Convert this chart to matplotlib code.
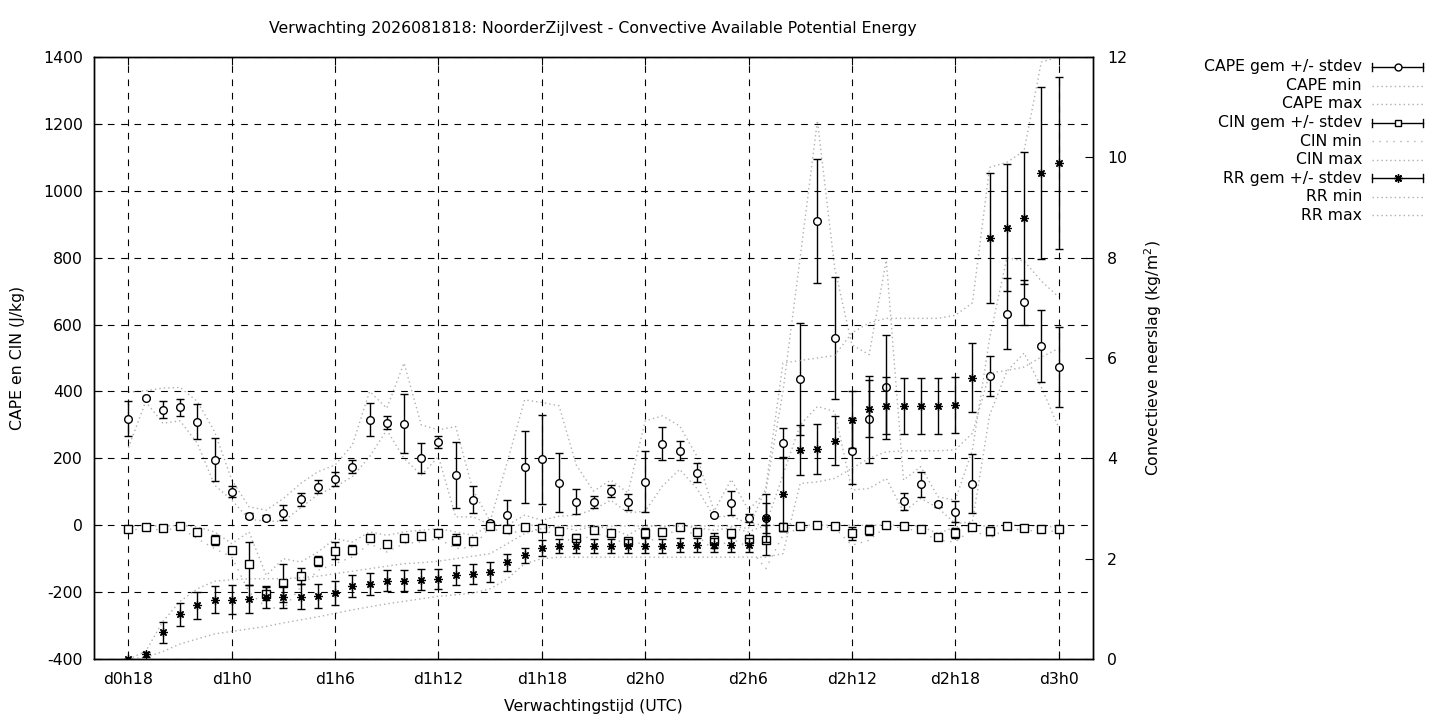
import matplotlib
matplotlib.use("Agg")
import matplotlib.pyplot as plt
from matplotlib.lines import Line2D

plt.rcParams['font.family'] = ['DejaVu Sans']
plt.rcParams['font.size'] = 11.3
plt.rcParams['axes.unicode_minus'] = False

# forecast hours 18 .. 72 (d0h18 .. d3h0)
hours = list(range(18, 73))

cape_mean = [318, 379, 346, 352, 310, 196, 100, 29, 23, 38,
             77, 115, 139, 175, 316, 307, 304, 202, 250, 151,
             76, 8, 31, 175, 197, 127, 70, 70, 103, 70,
             130, 244, 223, 157, 31, 66, 21, 22, 245, 437,
             910, 560, 222, 317, 414, 72, 122, 62, 41, 124,
             446, 633, 666, 536, 472]
cape_std = [52, 3, 25, 26, 52, 65, 17, 8, 8, 21,
            20, 19, 21, 19, 50, 19, 88, 45, 18, 99,
            40, 5, 43, 108, 133, 88, 37, 18, 18, 23,
            91, 50, 28, 28, 4, 35, 12, 45, 45, 168,
            186, 182, 100, 130, 155, 25, 37, 7, 30, 88,
            59, 107, 68, 107, 120]
cape_min = [232, 370, 305, 312, 245, 120, 75, 18, 12, 12,
            52, 92, 115, 145, 205, 285, 200, 150, 205, 25,
            25, 2, 0, 30, 15, 27, 30, 47, 75, 37,
            42, 117, 167, 110, 25, 27, 5, 0, 150, 300,
            355, 340, 105, 110, 140, 40, 80, 52, 5, 10,
            330, 460, 515, 413, 293]
cape_max = [398, 402, 410, 412, 370, 280, 135, 55, 45, 80,
            125, 160, 180, 240, 400, 350, 485, 300, 285, 295,
            105, 12, 190, 375, 367, 357, 180, 102, 135, 97,
            312, 327, 297, 207, 42, 137, 45, 100, 400, 800,
            1210, 770, 540, 510, 792, 135, 175, 85, 75, 225,
            560, 800, 790, 730, 683]

cin_mean = [-11, -5, -9, -2, -20, -44, -74, -115, -205, -173,
            -151, -107, -76, -73, -38, -56, -38, -32, -23, -43,
            -47, -1, -11, -5, -9, -17, -37, -14, -23, -46,
            -23, -19, -5, -20, -45, -23, -40, -45, -6, -2,
            0, -3, -24, -14, 0, -3, -11, -34, -23, -5,
            -17, -3, -7, -10, -11]
cin_std = [2, 2, 2, 2, 10, 15, 10, 65, 20, 58,
           24, 16, 25, 13, 4, 4, 4, 4, 4, 16,
           5, 2, 10, 2, 2, 4, 10, 3, 3, 6,
           15, 8, 2, 3, 22, 8, 12, 45, 12, 2,
           2, 2, 20, 16, 1, 2, 3, 4, 15, 3,
           12, 2, 3, 3, 3]
cin_min = [-15, -10, -15, -8, -40, -70, -95, -200, -245, -250,
           -185, -135, -115, -95, -55, -80, -55, -50, -40, -70,
           -65, -5, -30, -10, -15, -30, -55, -25, -35, -60,
           -50, -35, -10, -30, -75, -40, -65, -130, -30, -8,
           -4, -8, -60, -45, -3, -8, -20, -45, -50, -12,
           -40, -8, -15, -18, -18]
cin_max = [-5, 0, -3, 0, -5, -20, -55, -20, -150, -100,
           -110, -80, -40, -50, -20, -30, -20, -15, -10, -20,
           -30, 0, 0, 0, 0, -5, -15, -3, -10, -30,
           0, -5, 0, -8, -15, -8, -20, 0, 0, 0,
           0, 0, 0, 0, 0, 0, -3, -25, -5, 0,
           -3, 0, 0, -3, -5]

rr_mean = [0.0, 0.09, 0.53, 0.89, 1.07, 1.18, 1.18, 1.19, 1.23, 1.23,
           1.24, 1.26, 1.31, 1.45, 1.50, 1.56, 1.56, 1.58, 1.60, 1.67,
           1.70, 1.74, 1.93, 2.07, 2.21, 2.26, 2.26, 2.26, 2.26, 2.26,
           2.26, 2.26, 2.27, 2.27, 2.27, 2.27, 2.27, 2.81, 3.29, 4.17,
           4.19, 4.35, 4.77, 4.99, 5.05, 5.05, 5.05, 5.05, 5.07, 5.61,
           8.39, 8.60, 8.79, 9.69, 9.89]
rr_std = [0.0, 0.05, 0.21, 0.23, 0.27, 0.27, 0.29, 0.28, 0.22, 0.22,
          0.25, 0.24, 0.24, 0.22, 0.22, 0.21, 0.21, 0.21, 0.20, 0.20,
          0.20, 0.20, 0.17, 0.15, 0.16, 0.14, 0.14, 0.14, 0.14, 0.14,
          0.15, 0.14, 0.14, 0.14, 0.14, 0.14, 0.14, 0.48, 0.74, 0.50,
          0.50, 0.49, 0.57, 0.57, 0.57, 0.56, 0.56, 0.56, 0.56, 0.68,
          1.30, 1.26, 1.32, 1.71, 1.71]
rr_min = [0.0, 0.03, 0.15, 0.3, 0.4, 0.5, 0.55, 0.6, 0.65, 0.72,
          0.78, 0.84, 0.91, 0.98, 1.04, 1.1, 1.15, 1.2, 1.25, 1.28,
          1.31, 1.4, 1.6, 1.9, 2.0, 2.03, 2.03, 2.03, 2.03, 2.03,
          2.03, 2.03, 2.03, 2.03, 2.03, 2.03, 2.03, 2.03, 2.1, 3.5,
          3.53, 3.6, 3.8, 4.0, 4.13, 4.15, 4.15, 4.15, 4.17, 4.5,
          5.7, 5.75, 5.82, 6.02, 6.19]
rr_max = [0.0, 0.15, 0.75, 1.15, 1.4, 1.55, 1.58, 1.6, 1.6, 1.6,
          1.62, 1.65, 1.7, 1.75, 1.8, 1.85, 1.9, 1.92, 1.95, 2.0,
          2.05, 2.1, 2.3, 2.5, 2.6, 2.65, 2.65, 2.65, 2.65, 2.65,
          2.65, 2.65, 2.65, 2.65, 2.65, 2.65, 2.6, 3.4, 5.9, 5.95,
          6.0, 6.05, 6.5, 6.7, 6.79, 6.79, 6.79, 6.79, 6.85, 7.1,
          9.8, 9.9, 10.13, 11.9, 12.0]

tick_hours = [18, 24, 30, 36, 42, 48, 54, 60, 66, 72]
tick_labels = ["d0h18", "d1h0", "d1h6", "d1h12", "d1h18",
               "d2h0", "d2h6", "d2h12", "d2h18", "d3h0"]

W, H = 1440, 720
grey = "#b0b0b0"
dots = (0, (1, 2.2))
star = (8, 2, 0)

fig = plt.figure(figsize=(W / 100, H / 100), dpi=100)
ax = fig.add_axes([94 / W, 61 / H, 999 / W, 602 / H])
ax2 = ax.twinx()

# min / max envelopes
ax.plot(hours, cape_min, color=grey, lw=1, ls=dots, zorder=1)
ax.plot(hours, cape_max, color=grey, lw=1, ls=dots, zorder=1)
ax.plot(hours, cin_min, color=grey, lw=1, ls=(0, (1, 4)), zorder=1)
ax.plot(hours, cin_max, color=grey, lw=1, ls=dots, zorder=1)
ax2.plot(hours, rr_min, color=grey, lw=1, ls=dots, zorder=1)
ax2.plot(hours, rr_max, color=grey, lw=1, ls=dots, zorder=1)

# means with stdev
ax.errorbar(hours, cape_mean, yerr=cape_std, fmt='o', color='black', mfc='white',
            mec='black', ms=5.5, mew=1, elinewidth=1, capsize=3, capthick=1, zorder=4)
ax.errorbar(hours, cin_mean, yerr=cin_std, fmt='s', color='black', mfc='white',
            mec='black', ms=5.5, mew=1, elinewidth=1, capsize=3, capthick=1, zorder=4)
ax2.errorbar(hours, rr_mean, yerr=rr_std, fmt='none', ecolor='black',
             elinewidth=1, capsize=3, capthick=1, zorder=4)
ax2.plot(hours, rr_mean, ls='none', marker=star, color='black', ms=6, mew=0.9, zorder=5)

ax.set_xlim(16, 74)
ax.set_ylim(-400, 1400)
ax2.set_ylim(0, 12)
ax.set_xticks(tick_hours)
ax.set_xticklabels(tick_labels)
ax.set_yticks(range(-400, 1401, 200))
ax2.set_yticks(range(0, 13, 2))

ax.grid(True, color='black', lw=0.8, ls=(0, (6, 6)))
ax.tick_params(direction='in', length=6, top=True, right=False, labelsize=11.3)
ax.tick_params(axis='x', pad=9)
ax.tick_params(axis='y', pad=8)
ax2.tick_params(direction='in', length=6, labelsize=11.3, pad=10)
for a in (ax, ax2):
    for s in a.spines.values():
        s.set_linewidth(1)

fig.text(593 / W, 1 - 29 / H, "Verwachting 2026081818: NoorderZijlvest - Convective Available Potential Energy",
         ha='center', va='center', fontsize=11.3)
fig.text(593 / W, 1 - 706 / H, "Verwachtingstijd (UTC)", ha='center', va='center', fontsize=11.3)
fig.text(18 / W, 1 - 358 / H, "CAPE en CIN (J/kg)", rotation=90, ha='center', va='center', fontsize=11.3)
fig.text(1153 / W, 1 - 358 / H, "Convectieve neerslag (kg/m$^2$)", rotation=90,
         ha='center', va='center', fontsize=11.3)

# legend, gnuplot style: text right aligned, sample on the right
legend_items = [
    ("CAPE gem +/- stdev", 'o'), ("CAPE min", None), ("CAPE max", None),
    ("CIN gem +/- stdev", 's'), ("CIN min", 'sparse'), ("CIN max", None),
    ("RR gem +/- stdev", star), ("RR min", None), ("RR max", None),
]
x0, x1 = 1372, 1423
for i, (label, kind) in enumerate(legend_items):
    yy = 1 - (67 + 18.5 * i) / H
    fig.text(1362 / W, yy, label, ha='right', va='center', fontsize=11.3)
    if kind is None or kind == 'sparse':
        ls = (0, (1, 4)) if kind == 'sparse' else dots
        fig.add_artist(Line2D([x0 / W, x1 / W], [yy, yy], color=grey, lw=1, ls=ls))
    else:
        fig.add_artist(Line2D([x0 / W, x1 / W], [yy, yy], color='black', lw=1))
        for xe in (x0, x1):
            fig.add_artist(Line2D([xe / W, xe / W], [yy - 4 / H, yy + 4 / H], color='black', lw=1))
        mfc = 'black' if kind == star else 'white'
        fig.add_artist(Line2D([(x0 + x1) / 2 / W], [yy], ls='none', marker=kind,
                              mfc=mfc, mec='black', ms=5 if kind != star else 6, mew=1))

fig.savefig("out.png", dpi=100)
